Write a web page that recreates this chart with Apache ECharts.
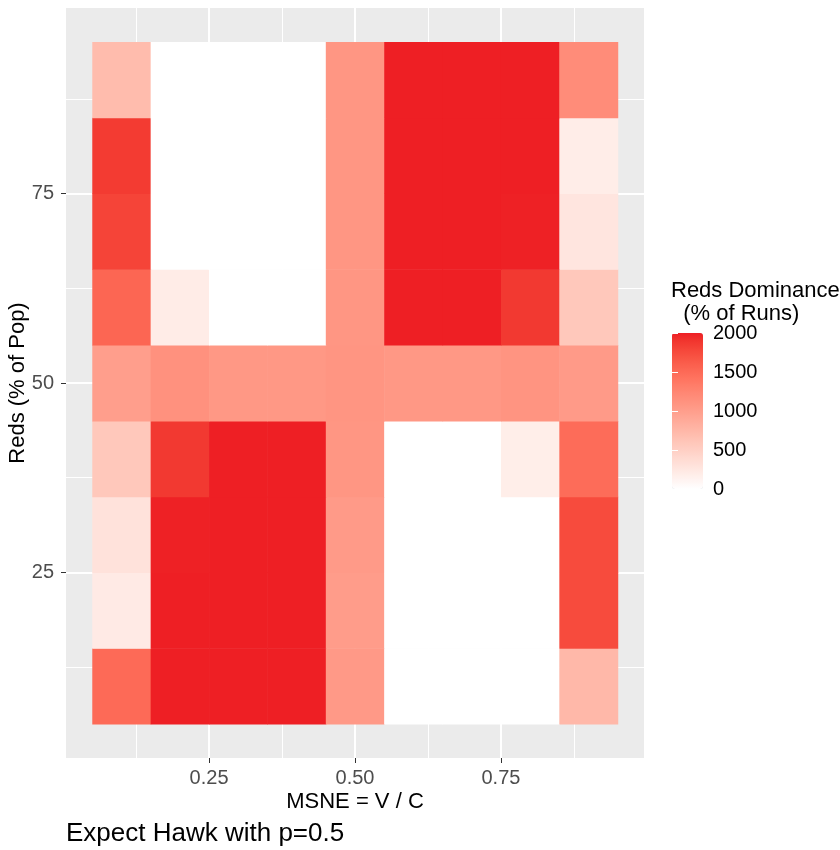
<!DOCTYPE html>
<html><head><meta charset="utf-8">
<script src="https://cdn.jsdelivr.net/npm/echarts@6/dist/echarts.min.js"></script>
<style>html,body{margin:0;padding:0;background:#fff}#c{width:840px;height:850px}</style>
</head><body><div id="c"></div>
<script>
// ---- data ----
const msne = [0.1, 0.2, 0.3, 0.4, 0.5, 0.6, 0.7, 0.8, 0.9];
const redsPct = [10, 20, 30, 40, 50, 60, 70, 80, 90];
// Reds dominance per row (Reds % of Pop), one value per MSNE column
const reds10 = [1500, 2000, 2000, 2000, 1050, 0, 0, 0, 740];
const reds20 = [220, 2000, 2000, 2000, 1020, 0, 0, 0, 1750];
const reds30 = [300, 1990, 2000, 2000, 1040, 0, 0, 0, 1750];
const reds40 = [580, 1870, 2000, 2000, 1080, 0, 0, 180, 1480];
const reds50 = [1000, 1130, 1060, 1060, 1090, 1060, 1060, 1100, 1040];
const reds60 = [1540, 200, 0, 0, 1080, 2000, 2000, 1870, 580];
const reds70 = [1800, 0, 0, 0, 1080, 2000, 2000, 1990, 270];
const reds80 = [1860, 0, 0, 0, 1080, 2000, 2000, 2000, 190];
const reds90 = [700, 0, 0, 0, 1080, 2000, 2000, 2000, 1180];
const xTicks = [0.25, 0.5, 0.75];
const xMinor = [0.125, 0.375, 0.625, 0.875];
const yTicks = [25, 50, 75];
const yMinor = [12.5, 37.5, 62.5, 87.5];
const fillMin = 0, fillMax = 2000, fillStep = 500;

// ---- build ----
const rows = [reds10, reds20, reds30, reds40, reds50, reds60, reds70, reds80, reds90];
const data = [];
rows.forEach((r, j) => r.forEach((v, i) => data.push([msne[i], redsPct[j], v])));
const dx = msne[1] - msne[0], dy = redsPct[1] - redsPct[0];
const xSpan = msne[msne.length - 1] - msne[0] + dx, ySpan = redsPct[redsPct.length - 1] - redsPct[0] + dy;
const xMin = msne[0] - dx / 2 - 0.05 * xSpan, xMax = msne[msne.length - 1] + dx / 2 + 0.05 * xSpan;
const yMin = redsPct[0] - dy / 2 - 0.05 * ySpan, yMax = redsPct[redsPct.length - 1] + dy / 2 + 0.05 * ySpan;

// Lab interpolation (like ggplot's gradient) white -> red
function lin(c){c/=255;return c<=0.04045?c/12.92:Math.pow((c+0.055)/1.055,2.4);}
function delin(c){c=c<=0.0031308?12.92*c:1.055*Math.pow(c,1/2.4)-0.055;return Math.round(Math.max(0,Math.min(1,c))*255);}
const Xn=0.95047,Yn=1,Zn=1.08883;
function f(t){return t>0.008856?Math.cbrt(t):7.787*t+16/116;}
function fi(t){return t>0.206893?t*t*t:(t-16/116)/7.787;}
function toLab(rgb){const r=lin(rgb[0]),g=lin(rgb[1]),b=lin(rgb[2]);
  const X=0.4124*r+0.3576*g+0.1805*b,Y=0.2126*r+0.7152*g+0.0722*b,Z=0.0193*r+0.1192*g+0.9505*b;
  const fx=f(X/Xn),fy=f(Y/Yn),fz=f(Z/Zn);return [116*fy-16,500*(fx-fy),200*(fy-fz)];}
function fromLab(lab){const fy=(lab[0]+16)/116,fx=fy+lab[1]/500,fz=fy-lab[2]/200;
  const X=Xn*fi(fx),Y=Yn*fi(fy),Z=Zn*fi(fz);
  const r=3.2406*X-1.5372*Y-0.4986*Z,g=-0.9689*X+1.8758*Y+0.0415*Z,b=0.0557*X-0.2040*Y+1.0570*Z;
  return 'rgb('+delin(r)+','+delin(g)+','+delin(b)+')';}
const lo=toLab([255,255,255]), hi=toLab([238,31,36]);
const stops=[];
for(let k=0;k<=20;k++){const t=k/20;stops.push(fromLab([lo[0]+(hi[0]-lo[0])*t,lo[1]+(hi[1]-lo[1])*t,lo[2]+(hi[2]-lo[2])*t]));}

const FONT = "'Liberation Sans', Arial, sans-serif";
const chart = echarts.init(document.getElementById('c'), null, {renderer: 'canvas'});
chart.setOption({
  animation: false,
  textStyle: {fontFamily: FONT},
  title: [
    {text: 'Expect Hawk with p=0.5', left: 66, top: 821, padding: 0,
     textStyle: {fontFamily: FONT, fontSize: 26, fontWeight: 'normal', color: '#000'}},
    {text: 'Reds Dominance\n  (% of Runs)', left: 671, top: 279, padding: 0,
     textStyle: {fontFamily: FONT, fontSize: 22, fontWeight: 'normal', color: '#000', lineHeight: 23}}
  ],
  grid: [
    {left: 66, right: 196, top: 8, bottom: 92, show: true, backgroundColor: '#EBEBEB', borderWidth: 0,
     containLabel: false, outerBoundsMode: 'none'},
    {left: 672, top: 333, width: 31, height: 156, show: false, containLabel: false, outerBoundsMode: 'none'}
  ],
  xAxis: [
    {type: 'value', gridIndex: 0, min: xMin, max: xMax,
     name: 'MSNE = V / C', nameLocation: 'middle', nameGap: 33, nameMoveOverlap: false,
     nameTextStyle: {fontFamily: FONT, fontSize: 22, color: '#000'},
     axisLine: {show: false},
     axisTick: {show: true, customValues: xTicks, length: 5, lineStyle: {color: '#333', width: 1}},
     axisLabel: {customValues: xTicks, formatter: v => v.toFixed(2), fontSize: 20, color: '#4D4D4D', margin: 10, fontFamily: FONT},
     splitLine: {show: true, lineStyle: {color: '#fff', width: 2}}},
    {type: 'value', gridIndex: 0, min: xMin, max: xMax, position: 'bottom',
     axisLine: {show: false}, axisLabel: {show: false},
     axisTick: {show: false, customValues: xMinor},
     splitLine: {show: true, lineStyle: {color: '#fff', width: 1}}},
    {type: 'value', gridIndex: 1, min: 0, max: 1, show: false}
  ],
  yAxis: [
    {type: 'value', gridIndex: 0, min: yMin, max: yMax,
     name: 'Reds (% of Pop)', nameLocation: 'middle', nameGap: 37, nameRotate: 90, nameMoveOverlap: false,
     nameTextStyle: {fontFamily: FONT, fontSize: 22, color: '#000'},
     axisLine: {show: false},
     axisTick: {show: true, customValues: yTicks, length: 5, lineStyle: {color: '#333', width: 1}},
     axisLabel: {customValues: yTicks, formatter: v => String(Math.round(v)), fontSize: 20, color: '#4D4D4D', margin: 12, fontFamily: FONT},
     splitLine: {show: true, lineStyle: {color: '#fff', width: 2}}},
    {type: 'value', gridIndex: 0, min: yMin, max: yMax, position: 'left',
     axisLine: {show: false}, axisLabel: {show: false},
     axisTick: {show: false, customValues: yMinor},
     splitLine: {show: true, lineStyle: {color: '#fff', width: 1}}},
    {type: 'value', gridIndex: 1, min: fillMin, max: fillMax, interval: fillStep, position: 'right', z: 10,
     axisLine: {show: false}, splitLine: {show: false},
     axisTick: {show: true, inside: true, length: 6, lineStyle: {color: '#fff', width: 1}},
     axisLabel: {fontSize: 20, color: '#000', margin: 10, fontFamily: FONT, formatter: v => String(v)}},
    {type: 'value', gridIndex: 1, min: fillMin, max: fillMax, interval: fillStep, position: 'left', z: 10,
     axisLine: {show: false}, splitLine: {show: false}, axisLabel: {show: false},
     axisTick: {show: true, inside: true, length: 6, lineStyle: {color: '#fff', width: 1}}}
  ],
  visualMap: {
    type: 'continuous', min: fillMin, max: fillMax, dimension: 2, seriesIndex: 0,
    calculable: false, hoverLink: false, left: 672, top: 333, padding: 0,
    itemWidth: 31, itemHeight: 156, text: null, showLabel: false,
    inRange: {color: stops}
  },
  series: [{
    type: 'custom', xAxisIndex: 0, yAxisIndex: 0, z: 3,
    encode: {x: 0, y: 1},
    data: data,
    renderItem: function (params, api) {
      const x = api.value(0), y = api.value(1);
      const p0 = api.coord([x - dx / 2, y + dy / 2]);
      const p1 = api.coord([x + dx / 2, y - dy / 2]);
      return {type: 'rect', shape: {x: p0[0], y: p0[1], width: p1[0] - p0[0] + 0.5, height: p1[1] - p0[1] + 0.5},
              style: {fill: api.visual('color')}};
    }
  }]
});
</script></body></html>
